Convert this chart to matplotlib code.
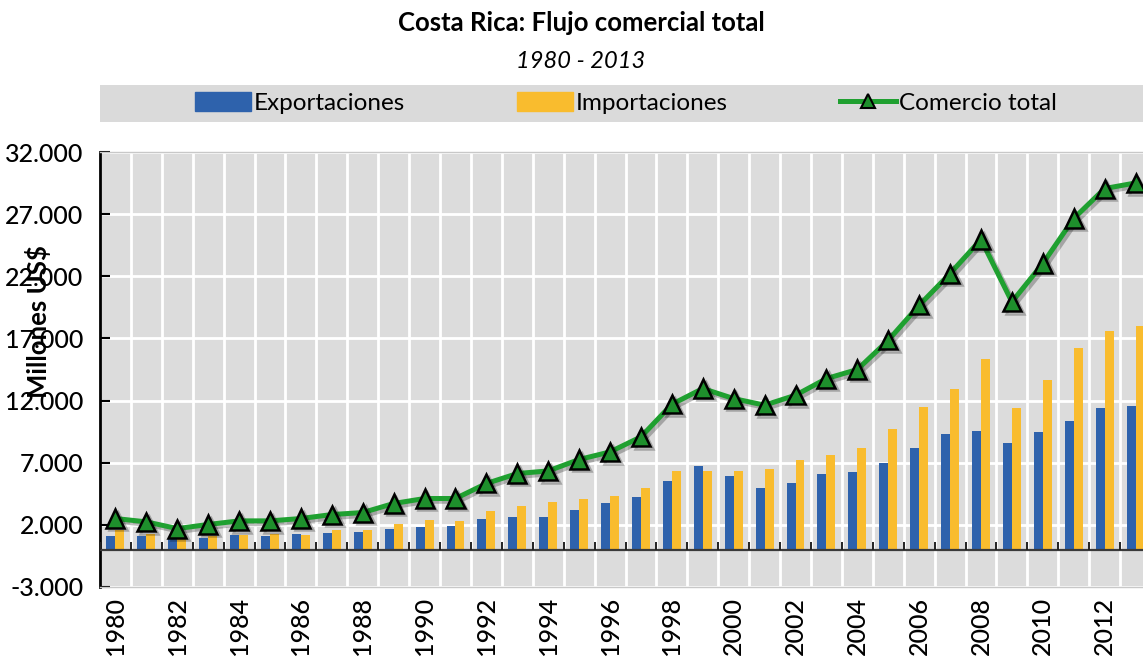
import matplotlib
matplotlib.use("Agg")
import matplotlib.pyplot as plt
import matplotlib.patheffects as pe
from matplotlib.patches import Patch, Rectangle
from matplotlib.lines import Line2D
import numpy as np

plt.rcParams['font.family'] = ['Lato', 'DejaVu Sans']

years = list(range(1980, 2014))
exportaciones = [1090, 1090, 950, 980, 1220, 1110, 1300, 1380, 1430, 1700,
                 1830, 1890, 2450, 2640, 2640, 3230, 3720, 4250, 5540, 6740,
                 5940, 5000, 5330, 6130, 6260, 7010, 8190, 9350, 9530, 8590,
                 9480, 10360, 11410, 11540]
importaciones = [1570, 1300, 900, 1090, 1220, 1250, 1170, 1620, 1620, 2100,
                 2370, 2320, 3120, 3520, 3850, 4120, 4330, 4970, 6320, 6340,
                 6340, 6530, 7200, 7600, 8190, 9750, 11490, 12970, 15380, 11410,
                 13640, 16190, 17580, 18000]
comercio_total = [2510, 2240, 1700, 2030, 2320, 2320, 2510, 2830, 2990, 3720,
                  4120, 4120, 5330, 6130, 6340, 7260, 7870, 9080, 11700, 12970,
                  12160, 11630, 12430, 13770, 14500, 16850, 19670, 22220, 24960, 19940,
                  23030, 26650, 29060, 29510]
yticks = list(range(-3000, 32001, 5000))

azul = '#2E62AC'
amarillo = '#F9BC2E'
verde = '#1FA030'

fig = plt.figure(figsize=(11.43, 6.58), dpi=100)
ax = fig.add_axes([100/1143, 1 - 587/658, 1051/1143, 435/658])
ax.set_facecolor('#DCDCDC')

x = np.arange(len(years))
w = 0.29
ax.bar(x - w/2, exportaciones, width=w, color=azul, zorder=3)
ax.bar(x + w/2, importaciones, width=w, color=amarillo, zorder=3)

sombra = [pe.SimpleLineShadow(offset=(2, -2), alpha=0.25), pe.Normal()]
ax.plot(x, comercio_total, color=verde, lw=3.6, marker='^', ms=13,
        mfc='#1E8F2C', mec='black', mew=1.8, zorder=5, path_effects=sombra)

# zero line with the category ticks standing on it
ax.axhline(0, color='#3A3A3A', lw=1.6, zorder=4)
limites = np.arange(len(years) + 1) - 0.5
ax.vlines(limites, 0, 650, color='#222222', lw=1.4, zorder=4)

ax.set_xlim(-0.5, len(years) - 0.5)
ax.set_ylim(yticks[0], yticks[-1])
ax.set_yticks(yticks)
ax.set_yticklabels(['{:,.0f}'.format(v).replace(',', '.') for v in yticks],
                   fontsize=18, fontweight='medium')
ax.set_xticks(x[::2])
ax.set_xticklabels([str(a) for a in years[::2]], rotation=90, fontsize=18,
                   fontweight='medium')
ax.set_xticks(limites, minor=True)

ax.grid(axis='y', which='major', color='white', lw=2, zorder=1)
ax.grid(axis='x', which='minor', color='white', lw=2, zorder=1)
ax.set_axisbelow(True)
ax.tick_params(axis='x', which='both', length=0, pad=7)
ax.tick_params(axis='y', direction='in', length=7, width=1.5, pad=12)

for s in ['top', 'right', 'bottom']:
    ax.spines[s].set_color('#C8C8C8')
    ax.spines[s].set_linewidth(1)
ax.spines['left'].set_color('black')
ax.spines['left'].set_linewidth(2)

fig.text(38/1143, 1 - 322/658, 'Millones US$', rotation=90, fontsize=18.5,
         fontweight='bold', ha='center', va='center')

fig.text(581/1143, 1 - 23/658, 'Costa Rica: Flujo comercial total', fontsize=18.5,
         fontweight='bold', ha='center', va='center')
fig.text(581/1143, 1 - 62/658, '1980 - 2013', fontsize=17, style='italic',
         ha='center', va='center')

# grey band behind the legend
fig.patches.append(Rectangle((100/1143, 1 - 122/658), 1043/1143, 37/658,
                             transform=fig.transFigure, facecolor='#DADADA',
                             edgecolor='none', zorder=0))
handles = [Patch(color=azul), Patch(color=amarillo),
           Line2D([], [], color=verde, lw=3.6, marker='^', ms=10,
                  mfc='#1E8F2C', mec='black', mew=1.5)]
fig.legend(handles, ['Exportaciones', 'Importaciones', 'Comercio total'],
           loc='center', bbox_to_anchor=(626/1143, 1 - 103/658), ncol=3,
           frameon=False, fontsize=17.5, handlelength=2.3, handleheight=0.8,
           handletextpad=0.12, columnspacing=4.6)

fig.savefig('out.png', dpi=100)
